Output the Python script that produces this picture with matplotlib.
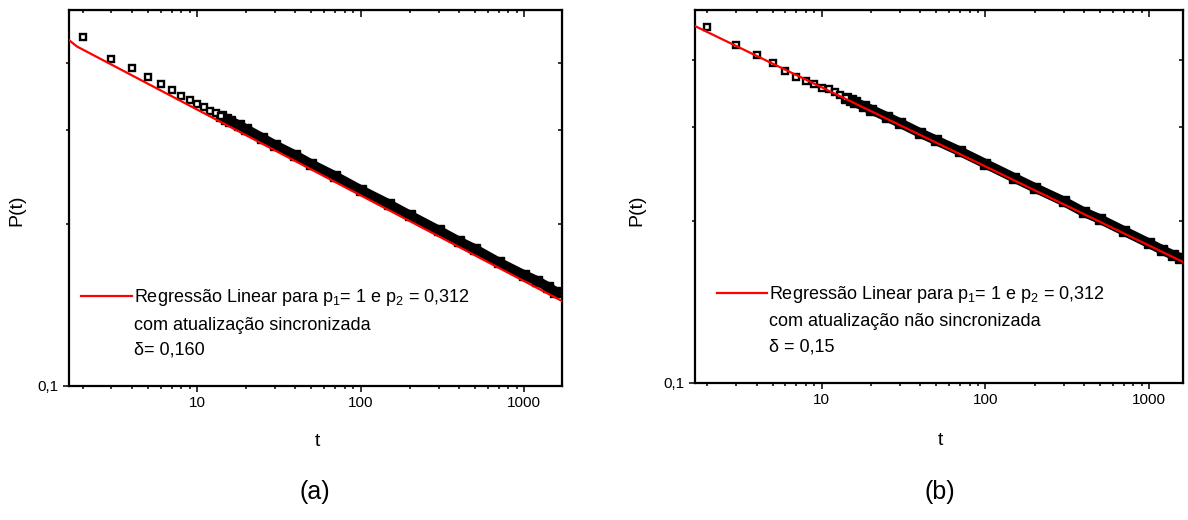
import numpy as np
import matplotlib
matplotlib.use("Agg")
import matplotlib.pyplot as plt
from matplotlib.ticker import FixedLocator, NullFormatter, FixedFormatter, LogLocator
from matplotlib.lines import Line2D

plt.rcParams['font.family'] = ['Liberation Sans', 'DejaVu Sans']
plt.rcParams['mathtext.fontset'] = 'custom'
plt.rcParams['mathtext.rm'] = 'Liberation Sans'

# data
t = [2, 3, 4, 5, 6, 7, 8, 9, 10, 11, 12, 13, 14, 15, 16, 18, 20, 25, 30, 40,
     50, 70, 100, 150, 200, 300, 400, 500, 700, 1000, 1200, 1400, 1550]
p_sync = [0.447, 0.407, 0.391, 0.376, 0.365, 0.356, 0.347, 0.341, 0.336, 0.331,
          0.326, 0.322, 0.318, 0.315, 0.312, 0.306, 0.301, 0.290, 0.281, 0.269,
          0.259, 0.246, 0.232, 0.218, 0.208, 0.195, 0.186, 0.180, 0.170, 0.161,
          0.157, 0.153, 0.150]
p_async = [0.460, 0.426, 0.408, 0.394, 0.381, 0.371, 0.365, 0.360, 0.355, 0.352,
           0.348, 0.344, 0.340, 0.337, 0.333, 0.328, 0.323, 0.313, 0.305, 0.292,
           0.283, 0.270, 0.256, 0.241, 0.231, 0.218, 0.208, 0.202, 0.192, 0.182,
           0.177, 0.173, 0.171]

# regression lines (end points)
fit_t_sync = [1.65, 1.85, 1706]
fit_p_sync = [0.441, 0.429, 0.144]
fit_t_async = [1.68, 1611]
fit_p_async = [0.462, 0.168]

band_from = 12  # index where markers merge into a band (t = 14)

panels = [
    dict(pos=[0.0581, 0.2577, 0.4150, 0.7231], xlim=(1.65, 1706), ylim=(0.1, 0.502),
         p=p_sync, ft=fit_t_sync, fp=fit_p_sync,
         lines=["Regressão Linear para p$_\\mathregular{1}$= 1 e p$_\\mathregular{2}$ = 0,312",
                "com atualização sincronizada", "δ= 0,160"],
         leg=(0.025, 0.262), ylab=(-0.089, 0.468), xlab=(0.503, -0.125),
         tag="(a)", tagx=0.265),
    dict(pos=[0.5850, 0.2635, 0.4108, 0.7173], xlim=(1.68, 1611), ylim=(0.1, 0.495),
         p=p_async, ft=fit_t_async, fp=fit_p_async,
         lines=["Regressão Linear para p$_\\mathregular{1}$= 1 e p$_\\mathregular{2}$ = 0,312",
                "com atualização não sincronizada", "δ = 0,15"],
         leg=(0.045, 0.265), ylab=(-0.102, 0.464), xlab=(0.502, -0.131),
         tag="(b)", tagx=0.791),
]

fig = plt.figure(figsize=(11.88, 5.2), dpi=100)

for pn in panels:
    ax = fig.add_axes(pn['pos'])
    ax.set_xscale('log')
    ax.set_yscale('log')

    # thick band where the square markers overlap
    ax.plot(t[band_from:], pn['p'][band_from:], color='black', lw=7,
            solid_capstyle='butt', zorder=2)
    ax.plot(t[band_from:], pn['p'][band_from:], ls='none', marker='s', ms=6.5,
            color='black', zorder=2)
    ax.plot(t[:band_from + 1], pn['p'][:band_from + 1], ls='none', marker='s',
            ms=4.6, mew=1.7, mec='black', mfc='white', zorder=3)
    fit, = ax.plot(pn['ft'], pn['fp'], color='#ff0000', lw=1.6, zorder=4)

    ax.set_xlim(*pn['xlim'])
    ax.set_ylim(*pn['ylim'])

    ax.xaxis.set_major_locator(FixedLocator([10, 100, 1000]))
    ax.xaxis.set_major_formatter(FixedFormatter(["10", "100", "1000"]))
    ax.xaxis.set_minor_locator(LogLocator(base=10, subs=np.arange(2, 10)))
    ax.xaxis.set_minor_formatter(NullFormatter())
    ax.yaxis.set_major_locator(FixedLocator([0.1]))
    ax.yaxis.set_major_formatter(FixedFormatter(["0,1"]))
    ax.yaxis.set_minor_locator(FixedLocator([0.2, 0.3, 0.4]))
    ax.yaxis.set_minor_formatter(NullFormatter())

    ax.tick_params(which='both', direction='out', width=1.1, labelsize=11, pad=3)
    ax.tick_params(which='major', length=4.5)
    ax.tick_params(which='minor', length=2.5)
    for s in ax.spines.values():
        s.set_linewidth(1.6)

    # mirrored ticks pointing inwards on top and right
    top = ax.secondary_xaxis('top')
    top.xaxis.set_major_locator(FixedLocator([10, 100, 1000]))
    top.xaxis.set_minor_locator(LogLocator(base=10, subs=np.arange(2, 10)))
    top.tick_params(which='both', direction='in', width=1.1, labeltop=False)
    top.tick_params(which='major', length=5)
    top.tick_params(which='minor', length=2.5)
    right = ax.secondary_yaxis('right')
    right.yaxis.set_major_locator(FixedLocator([0.1]))
    right.yaxis.set_minor_locator(FixedLocator([0.2, 0.3, 0.4]))
    right.tick_params(which='both', direction='in', width=1.1, labelright=False)
    right.tick_params(which='major', length=4.5)
    right.tick_params(which='minor', length=3)

    ax.set_ylabel("P(t)", fontsize=14)
    ax.yaxis.set_label_coords(*pn['ylab'])
    ax.set_xlabel("t", fontsize=14)
    ax.xaxis.set_label_coords(*pn['xlab'])

    blank = Line2D([], [], color='none')
    ax.legend([fit, blank, blank], pn['lines'], loc='upper left',
              bbox_to_anchor=pn['leg'], frameon=False, fontsize=13,
              handlelength=2.8, handletextpad=0.1, labelspacing=0.45,
              borderaxespad=0, borderpad=0)

    fig.text(pn['tagx'], 0.053, pn['tag'], fontsize=18, ha='center', va='center')

fig.savefig("out.png", dpi=100)
